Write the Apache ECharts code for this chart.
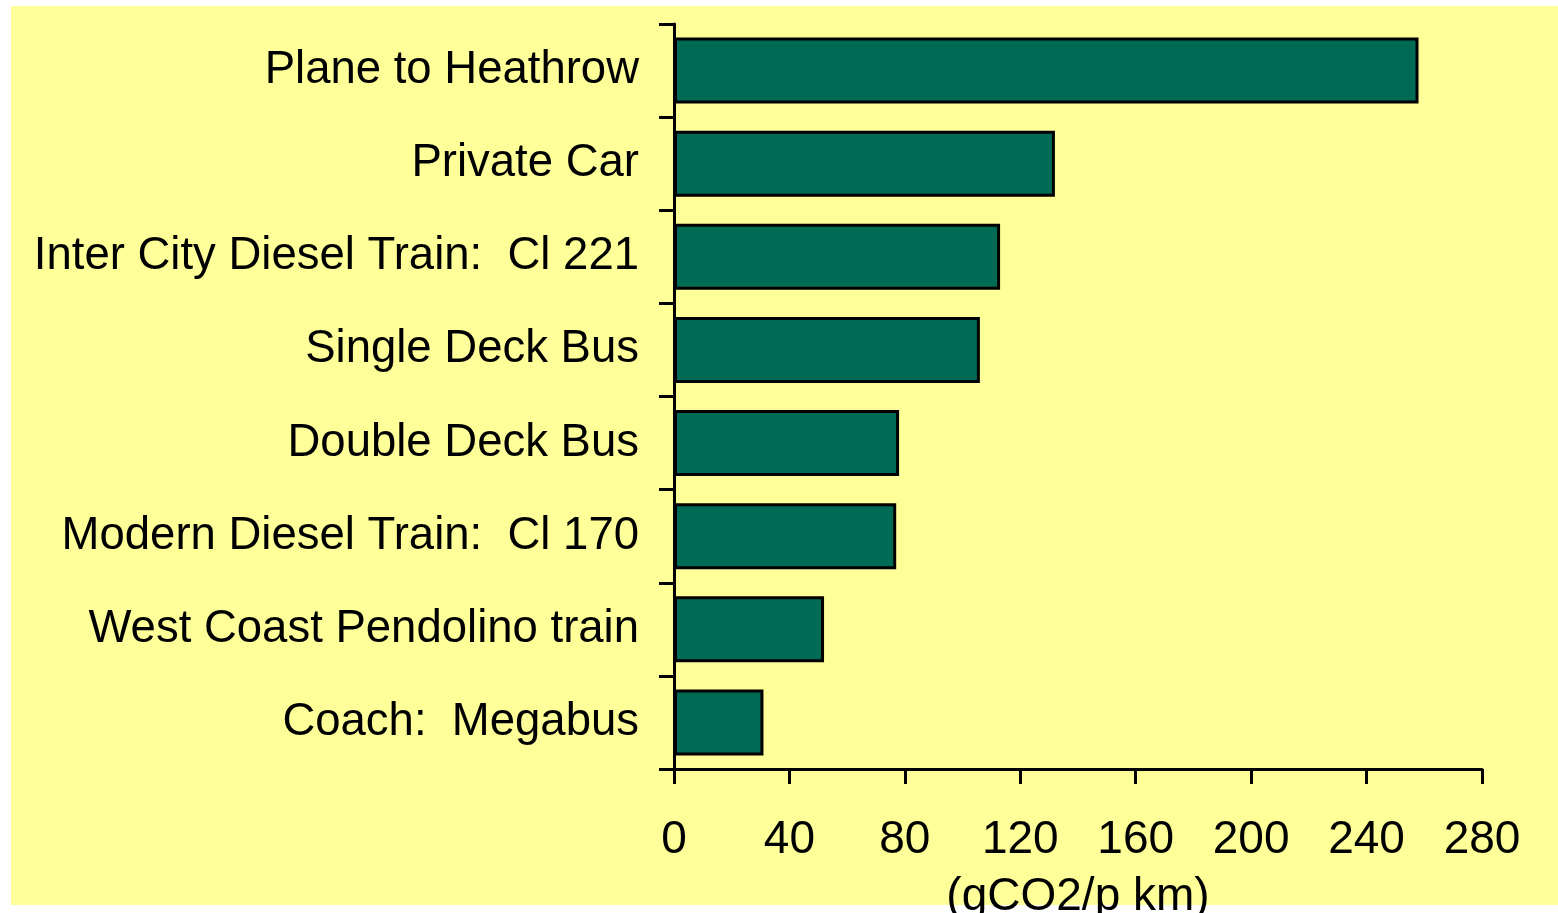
<!DOCTYPE html>
<html>
<head>
<meta charset="utf-8">
<script src="https://cdn.jsdelivr.net/npm/echarts@6/dist/echarts.min.js"></script>
<style>
  html, body { margin: 0; padding: 0; background: #ffffff; }
  #chart { width: 1558px; height: 913px; }
</style>
</head>
<body>
<div id="chart"></div>
<script>
// Carbon emissions per passenger km by mode of transport
const categories = [
  'Plane to Heathrow',
  'Private Car',
  'Inter City Diesel Train:  Cl 221',
  'Single Deck Bus',
  'Double Deck Bus',
  'Modern Diesel Train:  Cl 170',
  'West Coast Pendolino train',
  'Coach:  Megabus'
];
const emissions = [258, 132, 113, 106, 78, 77, 52, 31];
const xTicks = [0, 40, 80, 120, 160, 200, 240, 280];
const axisTitle = '(gCO2/p km)';

const FONT = '"Liberation Sans", Arial, sans-serif';
const chart = echarts.init(document.getElementById('chart'), null, { renderer: 'canvas' });

chart.setOption({
  backgroundColor: '#ffffff',
  animation: false,
  graphic: [{
    type: 'rect',
    z: -10,
    silent: true,
    shape: { x: 11, y: 6, width: 1547, height: 899 },
    style: { fill: '#FFFF99' }
  }],
  grid: {
    left: 674, right: 76, top: 24, bottom: 144,
    containLabel: false,
    outerBoundsMode: 'none'
  },
  xAxis: {
    type: 'value',
    min: xTicks[0],
    max: xTicks[xTicks.length - 1],
    interval: xTicks[1] - xTicks[0],
    splitLine: { show: false },
    axisLine: { show: true, lineStyle: { color: '#000', width: 3 } },
    axisTick: { show: true, length: 15, lineStyle: { color: '#000', width: 3 } },
    axisLabel: { color: '#000', fontSize: 46, fontFamily: FONT, margin: 48 },
    name: axisTitle,
    nameLocation: 'middle',
    nameGap: 105,
    nameTextStyle: { color: '#000', fontSize: 46, fontFamily: FONT }
  },
  yAxis: {
    type: 'category',
    data: categories,
    inverse: true,
    axisLine: { show: true, lineStyle: { color: '#000', width: 3 } },
    axisTick: { show: true, length: 15, lineStyle: { color: '#000', width: 3 } },
    axisLabel: { color: '#000', fontSize: 45.5, fontFamily: FONT, margin: 35 }
  },
  series: [{
    type: 'bar',
    data: emissions,
    barCategoryGap: '29%',
    itemStyle: { color: '#006B55', borderColor: '#000', borderWidth: 3 }
  }]
});
</script>
</body>
</html>
